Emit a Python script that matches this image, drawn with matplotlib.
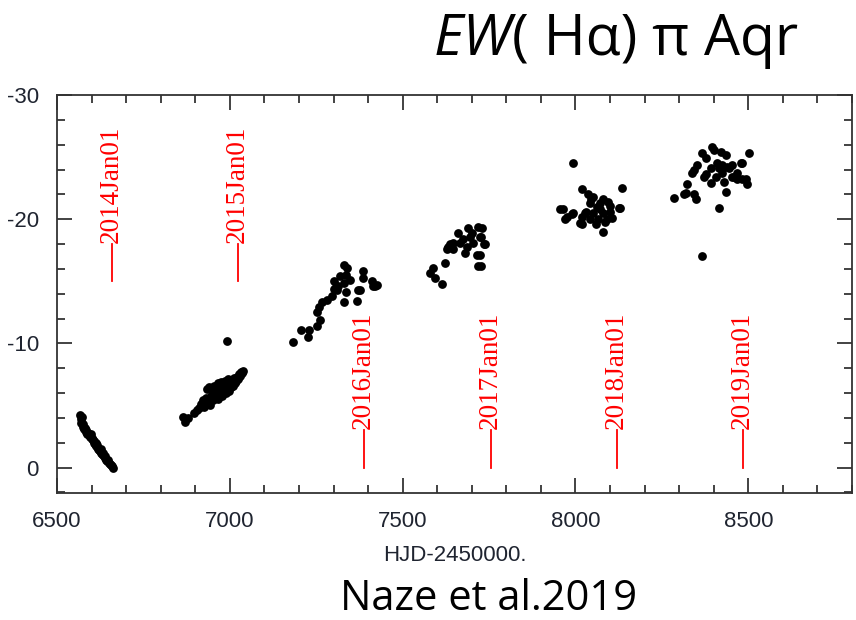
import matplotlib
matplotlib.use('Agg')

import matplotlib.pyplot as plt
from matplotlib.ticker import MultipleLocator

plt.rcParams['axes.unicode_minus'] = False

# season 1 (2013)
hjd_1 = [6566, 6568, 6570, 6572, 6574, 6576, 6578, 6580, 6583, 6585, 6588, 6590,
         6592, 6595, 6597, 6600, 6602, 6604, 6606, 6608, 6610, 6612, 6614, 6616,
         6618, 6620, 6622, 6624, 6626, 6628, 6630, 6632, 6634, 6636, 6638, 6640,
         6642, 6645, 6648, 6650, 6653, 6656, 6659, 6662]
ew_1 = [-4.2, -3.9, -3.6, -4.1, -3.3, -3.5, -3.1, -3.2, -2.9, -3.0, -2.7, -2.8,
        -2.6, -2.5, -2.7, -2.3, -2.4, -2.2, -2.0, -2.1, -1.9, -2.0, -1.7, -1.8,
        -1.5, -1.6, -1.4, -1.3, -1.5, -1.2, -1.1, -1.0, -1.2, -0.9, -0.8, -0.9,
        -0.6, -0.5, -0.6, -0.4, -0.3, -0.2, -0.1, 0.0]

# season 2 (2014)
hjd_2 = [6864, 6870, 6880, 6896, 6905, 6912, 6918, 6922, 6925, 6930, 6932, 6935,
         6938, 6940, 6942, 6945, 6948, 6950, 6952, 6955, 6957, 6960, 6962, 6965,
         6967, 6970, 6972, 6975, 6977, 6980, 6983, 6985, 6988, 6990, 6993, 6995,
         6998, 7000, 7003, 7006, 7009, 7012, 7015, 7018, 7021, 7024, 7027, 7030,
         7033, 7036, 7039, 6991]
ew_2 = [-4.1, -3.7, -4.0, -4.4, -4.6, -4.8, -5.1, -5.4, -4.9, -5.6, -5.2, -6.3,
        -5.5, -6.5, -5.0, -5.8, -6.4, -5.4, -6.0, -6.6, -5.6, -6.3, -5.9, -6.8,
        -5.5, -6.5, -6.1, -6.9, -5.8, -6.6, -6.3, -7.0, -6.0, -6.7, -6.4, -7.1,
        -6.2, -6.8, -6.5, -7.0, -6.6, -7.2, -6.8, -7.0, -7.3, -7.1, -7.5, -7.4,
        -7.7, -7.6, -7.8, -10.2]

# season 3 (2015)
hjd_3 = [7182, 7205, 7225, 7228, 7253, 7262, 7253, 7257, 7267, 7282, 7297, 7300,
         7314, 7329, 7329, 7340, 7335, 7349, 7329, 7335, 7369, 7372, 7386, 7386,
         7412, 7427, 7415, 7311, 7300, 7320, 7306, 7378, 7421]
ew_3 = [-10.1, -11.1, -10.5, -11.1, -11.4, -11.9, -12.5, -12.9, -13.3, -13.5, -13.8, -14.4,
        -14.6, -14.9, -16.3, -16.1, -15.5, -15.1, -13.3, -14.1, -13.4, -14.3, -15.8, -15.3,
        -15.0, -14.7, -14.6, -14.3, -15.0, -15.4, -14.5, -14.3, -14.6]

# season 4 (2016)
hjd_4 = [7580, 7594, 7614, 7588, 7623, 7628, 7637, 7646, 7660, 7666, 7680, 7689,
         7695, 7704, 7718, 7724, 7735, 7715, 7718, 7632, 7646, 7675, 7701, 7686,
         7730, 7727, 7738, 7724, 7727]
ew_4 = [-15.7, -15.3, -14.8, -16.1, -16.5, -17.6, -18.0, -17.6, -18.9, -18.1, -17.3, -19.3,
        -18.6, -18.1, -19.4, -18.6, -18.0, -17.1, -16.2, -17.8, -18.1, -18.4, -18.9, -17.8,
        -19.3, -18.6, -18.0, -17.1, -16.2]

# season 5 (2017)
hjd_5 = [7992, 8018, 7963, 7975, 7992, 8018, 8018, 8036, 8050, 8041, 8061, 8079,
         8093, 8099, 8105, 8079, 8128, 8134, 8050, 8041, 8064, 8079, 8090, 8070,
         8027, 7954, 7969, 7989, 8012, 8030, 8058, 8085, 8125, 8045, 8100, 8072]
ew_5 = [-24.5, -22.4, -20.8, -20.2, -20.5, -20.2, -19.6, -22.0, -21.8, -21.3, -21.0, -21.6,
        -21.4, -20.6, -20.1, -19.0, -20.9, -22.5, -20.5, -20.0, -20.0, -20.5, -20.0, -20.8,
        -20.5, -20.8, -20.0, -20.4, -19.7, -20.6, -19.6, -19.8, -20.9, -21.6, -21.1, -21.3]

# season 6 (2018)
hjd_6 = [8284, 8315, 8324, 8344, 8350, 8344, 8353, 8367, 8379, 8396, 8373, 8393,
         8393, 8408, 8422, 8436, 8425, 8445, 8436, 8416, 8454, 8468, 8483, 8497,
         8503, 8483, 8367, 8410, 8425, 8454, 8321, 8338, 8379, 8416, 8439, 8459,
         8480, 8494, 8468, 8400, 8430]
ew_6 = [-21.7, -22.0, -22.8, -22.0, -21.6, -24.0, -24.4, -25.3, -24.9, -25.8, -23.4, -24.1,
        -22.9, -23.4, -25.4, -25.2, -24.4, -24.1, -22.2, -20.9, -23.4, -23.2, -23.2, -22.8,
        -25.3, -24.5, -17.0, -24.5, -23.7, -24.4, -22.1, -23.7, -23.6, -24.1, -24.2, -23.4,
        -24.5, -23.2, -23.7, -25.6, -23.0]

hjd = hjd_1 + hjd_2 + hjd_3 + hjd_4 + hjd_5 + hjd_6
ew = ew_1 + ew_2 + ew_3 + ew_4 + ew_5 + ew_6

# 1 January of each year, HJD-2450000
jan_dates = [6658.5, 7023.5, 7388.5, 7754.5, 8119.5, 8484.5]
jan_labels = ["2014Jan01", "2015Jan01", "2016Jan01", "2017Jan01", "2018Jan01", "2019Jan01"]
jan_low = [-15, -15, 0, 0, 0, 0]
jan_high = [-18, -18, -3, -3, -3, -3]

fig = plt.figure(figsize=(8.56, 6.2), dpi=100)
ax = fig.add_axes([0.0666, 0.2048, 0.9287, 0.642])

ax.scatter(hjd, ew, s=40, color="black", linewidths=0, zorder=3)

for d, lab, lo, hi in zip(jan_dates, jan_labels, jan_low, jan_high):
    ax.plot([d, d], [lo, hi], color="red", lw=1.3)
    ax.text(d - 2, hi - 0.1, lab, rotation=90, ha="center", va="bottom",
            color="red", fontsize=19.5, family="Liberation Serif")

ax.set_xlim(6500, 8800)
ax.set_ylim(2.05, -30)
ax.xaxis.set_major_locator(MultipleLocator(500))
ax.xaxis.set_minor_locator(MultipleLocator(100))
ax.yaxis.set_major_locator(MultipleLocator(10))
ax.yaxis.set_minor_locator(MultipleLocator(2))
ax.tick_params(which="both", direction="in", top=True, right=True,
               width=1.2, color="#222222", labelsize=16, labelcolor="#1f2430", pad=13)
ax.tick_params(which="major", length=11)
ax.tick_params(which="minor", length=6)
for lab in ax.get_xticklabels() + ax.get_yticklabels():
    lab.set_family("Liberation Sans")
for sp in ax.spines.values():
    sp.set_linewidth(1.3)
    sp.set_color("#333333")

ax.set_xlabel("HJD-2450000.", fontsize=16, family="Liberation Sans",
              color="#1f2430", labelpad=9)

t1 = fig.text(434 / 856, 1 - 55 / 620, "EW", fontsize=41, style="italic",
              family=["Open Sans", "DejaVu Sans"], ha="left", va="baseline")
ax.annotate("( H\u03b1) \u03c0 Aqr", xy=(1, 0), xycoords=t1, ha="left", va="bottom",
            fontsize=41, family=["Open Sans", "DejaVu Sans"], annotation_clip=False)

fig.text(340 / 856, 0.016, "Naze et al.2019", fontsize=30,
         family=["Open Sans", "DejaVu Sans"], ha="left", va="baseline")

plt.savefig("out.png", dpi=100)
plt.close()
